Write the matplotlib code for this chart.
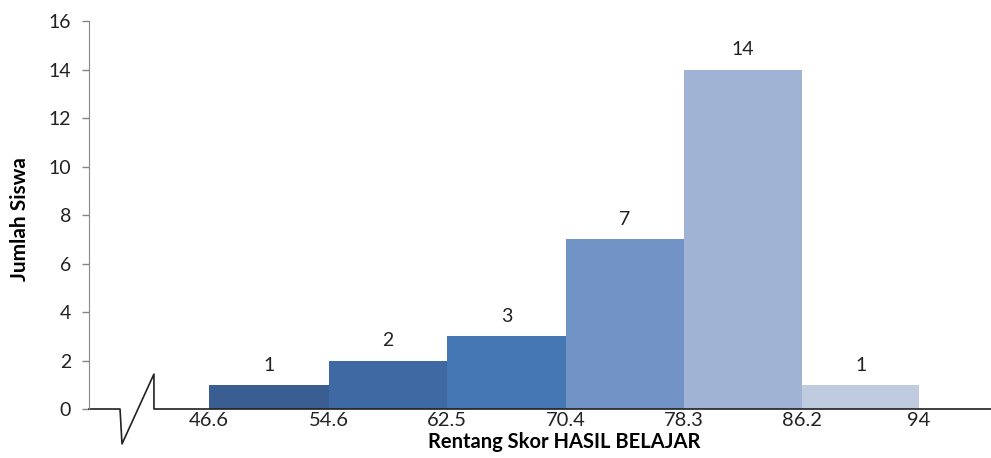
import matplotlib.pyplot as plt
import numpy as np

plt.rcParams['font.family'] = ['Lato', 'DejaVu Sans']

edges = [46.6, 54.6, 62.5, 70.4, 78.3, 86.2, 94]
counts = [1, 2, 3, 7, 14, 1]
edge_labels = ['46.6', '54.6', '62.5', '70.4', '78.3', '86.2', '94']
colors = ['#3A5D92', '#3F69A2', '#4677B5', '#7193C6', '#A0B3D5', '#C0CBE0']

fig = plt.figure(figsize=(9.91, 4.58), dpi=100)
ax = fig.add_axes([0.0898, 0.107, 0.9102, 0.847])

widths = np.diff(edges)
bars = ax.bar(edges[:-1], counts, width=widths, align='edge', color=colors, linewidth=0)

for b, c in zip(bars, counts):
    ax.annotate(str(c), (b.get_x() + b.get_width() / 2, b.get_height()),
                xytext=(0, 8), textcoords='offset points',
                ha='center', va='bottom', fontsize=14, color='#222222')

ax.set_xlim(38.59, 98.8)
ax.set_ylim(0, 16)
ax.set_yticks(range(0, 17, 2))
ax.set_xticks(edges)
ax.set_xticklabels(edge_labels)

ax.tick_params(axis='y', direction='out', length=5, width=1, color='#868686',
               pad=8, labelsize=14, labelcolor='#222222')
ax.tick_params(axis='x', length=0, pad=2, labelsize=14.5, labelcolor='#222222')

for s in ['top', 'right', 'bottom']:
    ax.spines[s].set_visible(False)
ax.spines['left'].set_color('#868686')

# x axis line with break mark
bx = [0, 0.0344, 0.0366, 0.072, 0.072, 1.0]
by = [0, 0, -0.09, 0.09, 0, 0]
ax.plot(bx, by, transform=ax.transAxes, color='#222222', lw=1.2, clip_on=False)

ax.set_ylabel('Jumlah Siswa', fontsize=15, fontweight='bold')
ax.yaxis.set_label_coords(-0.065, 0.49)
ax.set_xlabel('Rentang Skor HASIL BELAJAR', fontsize=14.5, fontweight='bold')
ax.xaxis.set_label_coords(0.527, -0.06)

fig.savefig('out.png', dpi=100)
